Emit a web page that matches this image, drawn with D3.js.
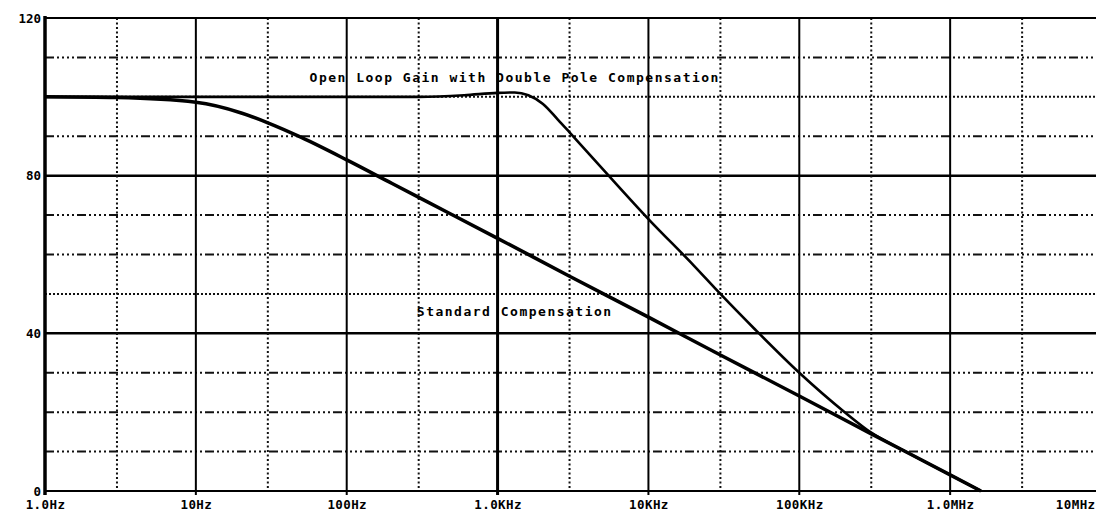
<!DOCTYPE html>
<html>
<head>
<meta charset="utf-8">
<script src="https://cdn.jsdelivr.net/npm/d3@7"></script>
<style>
  html, body { margin: 0; padding: 0; background: #fff; }
  svg { display: block; }
  .lbl { font-family: "DejaVu Sans Mono", monospace; font-weight: bold; fill: #000; }
</style>
</head>
<body>
<svg id="chart" width="1096" height="513"></svg>
<script>
// ---- data ----
const xTickValues = [1, 10, 100, 1000, 10000, 100000, 1000000, 10000000];
const xTickLabels = ["1.0Hz", "10Hz", "100Hz", "1.0KHz", "10KHz", "100KHz", "1.0MHz", "10MHz"];
const xMinorValues = [3, 30, 300, 3000, 30000, 300000, 3000000];
const yTickValues = [0, 40, 80, 120];
const yTickLabels = ["0", "40", "80", "120"];
const yGridSolid = [40, 80];
const yGridDashDot = [10, 20, 30, 60, 70, 90, 110];
const yGridDotted = [50, 100];

// Standard Compensation (frequency Hz, gain dB)
const freqStd = [1, 3, 10, 20, 30, 50, 100, 200, 500, 1000, 3000, 10000, 30000, 100000, 300000, 1000000, 1600000];
const gainStd = [100, 99.8, 98.6, 95.9, 93.4, 89.7, 84.0, 78.0, 70.1, 64.1, 54.5, 44.1, 34.5, 24.1, 14.5, 4.1, 0];

// Open Loop Gain with Double Pole Compensation
const freqDbl = [1, 10, 100, 300, 600, 1000, 1300, 1600, 2000, 2500, 3000, 5000, 10000, 20000, 30000, 50000, 100000, 200000, 300000, 500000, 1000000, 1600000];
const gainDbl = [100, 100, 100, 100, 100.4, 101, 101.1, 100.4, 98.2, 94.3, 91.0, 81.6, 69, 57.2, 50, 41.3, 30, 20, 14.8, 10.1, 4.1, 0];

const annotations = [
  { text: "Open Loop Gain with Double Pole Compensation", f: 1300, db: 103.7 },
  { text: "Standard Compensation", f: 1300, db: 44.5 }
];

// ---- drawing ----
const svg = d3.select("#chart");
const mLeft = 45, mRight = 1101, mTop = 18, mBottom = 491, W = 1096;
const x = d3.scaleLog().domain([1, 1e7]).range([mLeft, mRight]);
const y = d3.scaleLinear().domain([0, 120]).range([mBottom, mTop]);

const g = svg.append("g");

// horizontal grid
g.selectAll(".hdd").data(yGridDashDot).join("line")
  .attr("x1", mLeft).attr("x2", W)
  .attr("y1", d => y(d)).attr("y2", d => y(d))
  .attr("stroke", "#111").attr("stroke-width", 2)
  .attr("stroke-dasharray", "9,3,2,3,2,3,2,3,2,3");
g.selectAll(".hdot").data(yGridDotted).join("line")
  .attr("x1", mLeft).attr("x2", W)
  .attr("y1", d => y(d)).attr("y2", d => y(d))
  .attr("stroke", "#111").attr("stroke-width", 2)
  .attr("stroke-dasharray", "2,2");
g.selectAll(".hsol").data(yGridSolid).join("line")
  .attr("x1", mLeft).attr("x2", W)
  .attr("y1", d => y(d)).attr("y2", d => y(d))
  .attr("stroke", "#000").attr("stroke-width", 2.5);

// vertical grid
g.selectAll(".vdot").data(xMinorValues).join("line")
  .attr("x1", d => x(d)).attr("x2", d => x(d))
  .attr("y1", mTop).attr("y2", mBottom)
  .attr("stroke", "#111").attr("stroke-width", 2)
  .attr("stroke-dasharray", "2,2.5");
g.selectAll(".vsol").data(xTickValues.slice(1)).join("line")
  .attr("x1", d => x(d)).attr("x2", d => x(d))
  .attr("y1", mTop).attr("y2", mBottom + 4)
  .attr("stroke", "#000").attr("stroke-width", d => d === 1000 ? 3 : 2);

// frame
g.append("line").attr("x1", mLeft).attr("x2", W).attr("y1", mTop).attr("y2", mTop)
  .attr("stroke", "#000").attr("stroke-width", 2);
g.append("line").attr("x1", mLeft).attr("x2", W).attr("y1", mBottom).attr("y2", mBottom)
  .attr("stroke", "#000").attr("stroke-width", 2);
g.append("line").attr("x1", mLeft).attr("x2", mLeft).attr("y1", mTop - 2).attr("y2", mBottom + 4)
  .attr("stroke", "#000").attr("stroke-width", 3.5);

// curves
const line = d3.line().x(d => x(d[0])).y(d => y(d[1])).curve(d3.curveMonotoneX);
const stdData = d3.zip(freqStd, gainStd);
const dblData = d3.zip(freqDbl, gainDbl);
g.append("path").datum(stdData).attr("d", line)
  .attr("fill", "none").attr("stroke", "#000").attr("stroke-width", 3.5);
g.append("path").datum(dblData).attr("d", line)
  .attr("fill", "none").attr("stroke", "#000").attr("stroke-width", 2.6);

// axes labels
const xAxis = d3.axisBottom(x).tickValues(xTickValues)
  .tickFormat((d, i) => xTickLabels[i]).tickSize(0).tickPadding(9);
const xa = svg.append("g").attr("transform", `translate(0,${mBottom})`).call(xAxis);
xa.select(".domain").remove();
xa.selectAll("text").attr("class", "lbl").attr("font-size", 12.5).attr("letter-spacing", 0.4);
// last label sits at the right edge: keep it inside the picture
xa.selectAll(".tick").filter(d => x(d) > W - 30).select("text")
  .attr("text-anchor", "end").attr("x", W - 1 - x(1e7));

const yAxis = d3.axisLeft(y).tickValues(yTickValues)
  .tickFormat((d, i) => yTickLabels[i]).tickSize(0).tickPadding(4);
const ya = svg.append("g").attr("transform", `translate(${mLeft},0)`).call(yAxis);
ya.select(".domain").remove();
ya.selectAll("text").attr("class", "lbl").attr("font-size", 12.5);

// annotations
svg.selectAll(".ann").data(annotations).join("text")
  .attr("class", "lbl")
  .attr("x", d => x(d.f)).attr("y", d => y(d.db))
  .attr("text-anchor", "middle")
  .attr("font-size", 13).attr("letter-spacing", 1.5)
  .text(d => d.text);
</script>
</body>
</html>
